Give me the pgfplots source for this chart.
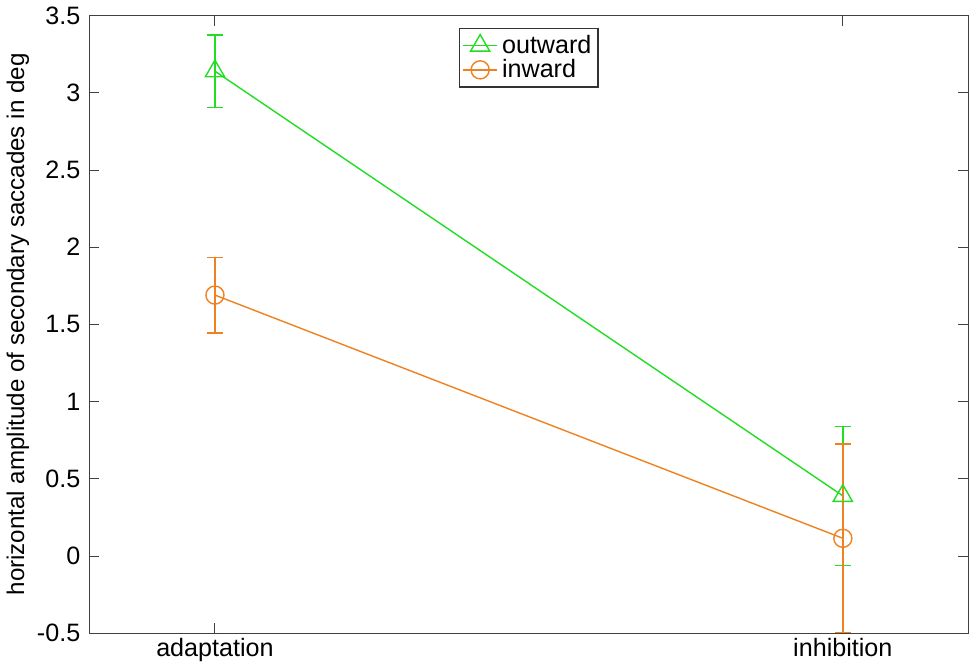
\documentclass[border=0pt]{standalone}
\usepackage{pgfplots}
\pgfplotsset{compat=1.18}
\usepackage{fontspec}
\setmainfont{Liberation Sans}
\definecolor{cgreen}{RGB}{34,221,34}
\definecolor{corange}{RGB}{238,130,34}
\begin{document}
\begin{tikzpicture}
\begin{axis}[
  scale only axis,
  width=435.5bp, height=306bp,
  xmin=0.8, xmax=2.2, ymin=-0.5, ymax=3.5,
  xtick={1,2}, xticklabels={adaptation,inhibition},
  ytick={-0.5,0,0.5,1,1.5,2,2.5,3,3.5},
  yticklabels={-0.5,0,0.5,1,1.5,2,2.5,3,3.5},
  tick align=inside,
  tick style={black!75, line width=0.5pt},
  major tick length=5bp,
  axis line style={black!75, line width=0.6pt},
  ylabel={horizontal amplitude of secondary saccades in deg},
  ylabel style={font=\fontsize{12}{13}\selectfont, yshift=-3bp},
  yticklabel style={font=\fontsize{12.5}{14}\selectfont, xshift=-1bp},
  xticklabel style={font=\fontsize{12.5}{14}\selectfont, yshift=1bp},
  legend style={at={(0.5,0.98)}, anchor=north, draw=black!80, line width=0.6pt,
    font=\fontsize{12.5}{13}\selectfont, row sep=-2.5pt, inner sep=1.2pt},
  legend cell align=left,
  clip=true,
]
\addplot[color=cgreen, line width=0.7pt, mark=triangle, mark size=5.5pt,
  mark options={solid, line width=0.7pt},
  error bars/.cd, y dir=both, y explicit,
  error mark options={rotate=90, mark size=4bp, line width=0.7pt, cgreen},
  error bar style={line width=0.7pt, cgreen}]
  coordinates {
    (1,3.14) +- (0,0.235)
    (2,0.39) +- (0,0.45)
  };
\addlegendentry{outward}
\addplot[color=corange, line width=0.7pt, mark=o, mark size=4.5pt,
  mark options={solid, line width=0.7pt},
  error bars/.cd, y dir=both, y explicit,
  error mark options={rotate=90, mark size=4bp, line width=0.7pt, corange},
  error bar style={line width=0.7pt, corange}]
  coordinates {
    (1,1.69) +- (0,0.245)
    (2,0.115) +- (0,0.61)
  };
\addlegendentry{inward}
\end{axis}
\end{tikzpicture}
\end{document}
